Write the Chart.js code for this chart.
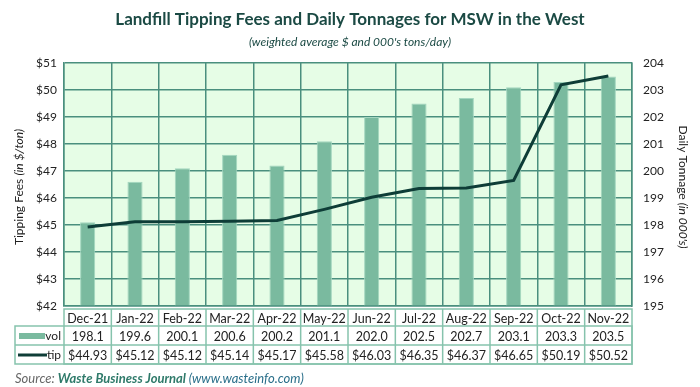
<!DOCTYPE html>
<html>
<head>
<meta charset="utf-8">
<script src="https://cdn.jsdelivr.net/npm/chart.js@4.4.0/dist/chart.umd.min.js"></script>
<style>
  html, body { margin: 0; padding: 0; background: #fff; }
  #wrap { width: 700px; height: 387px; }
</style>
</head>
<body>
<div id="wrap"><canvas id="tipChart" width="700" height="387"></canvas></div>
<script>
const months = ["Dec-21", "Jan-22", "Feb-22", "Mar-22", "Apr-22", "May-22", "Jun-22", "Jul-22", "Aug-22", "Sep-22", "Oct-22", "Nov-22"];
const vol = [198.1, 199.6, 200.1, 200.6, 200.2, 201.1, 202.0, 202.5, 202.7, 203.1, 203.3, 203.5];
const tip = [44.93, 45.12, 45.12, 45.14, 45.17, 45.58, 46.03, 46.35, 46.37, 46.65, 50.19, 50.52];
const feeTicks = [42, 43, 44, 45, 46, 47, 48, 49, 50, 51];
const tonTicks = [195, 196, 197, 198, 199, 200, 201, 202, 203, 204];

const FONT = "Lato, 'Open Sans', sans-serif";
const barColor = "#7aba9f";
const lineColor = "#0e3d37";
const gridColor = "#4a8f7e";
const tableColor = "#86c3ad";
const titleColor = "#1b4a44";

// background + table + titles
const extras = {
    id: "extras",
    beforeDraw(chart) {
        const { ctx, chartArea: a } = chart;
        ctx.save();
        ctx.fillStyle = "#e6fde6";
        ctx.fillRect(a.left, a.top, a.right - a.left, a.bottom - a.top);
        ctx.restore();
    },
    afterDraw(chart) {
        const { ctx, chartArea: a } = chart;
        const x = chart.scales.x;
        const step = (a.right - a.left) / months.length;
        const rows = [309, 326, 345, 364];
        ctx.save();

        // title
        ctx.textAlign = "center";
        ctx.textBaseline = "middle";
        ctx.fillStyle = titleColor;
        ctx.font = "bold 17px " + FONT;
        ctx.fillText("Landfill Tipping Fees and Daily Tonnages for MSW in the West", 350, 20);
        ctx.font = "italic 12px " + FONT;
        ctx.fillText("(weighted average $ and 000's tons/day)", 350, 42);

        // table grid
        ctx.strokeStyle = tableColor;
        ctx.lineWidth = 1.5;
        ctx.strokeRect(a.left, rows[0], a.right - a.left, rows[3] - rows[0]);
        ctx.strokeRect(15, rows[1], a.right - 15, rows[3] - rows[1]);
        ctx.beginPath();
        ctx.moveTo(15, rows[2]); ctx.lineTo(a.right, rows[2]);
        for (let i = 1; i < months.length; i++) {
            const cx = a.left + step * i;
            ctx.moveTo(cx, rows[0]); ctx.lineTo(cx, rows[3]);
        }
        ctx.stroke();

        ctx.fillStyle = "#222";
        ctx.font = "12.5px " + FONT;
        ctx.textAlign = "center";
        months.forEach((m, i) => {
            const cx = x.getPixelForValue(i);
            ctx.fillText(m, cx, (rows[0] + rows[1]) / 2 + 1);
            ctx.fillText(vol[i].toFixed(1), cx, (rows[1] + rows[2]) / 2 + 1);
            ctx.fillText("$" + tip[i].toFixed(2), cx, (rows[2] + rows[3]) / 2 + 1);
        });

        // legend keys
        ctx.fillStyle = barColor;
        ctx.fillRect(19, 333, 26, 6);
        ctx.strokeStyle = lineColor;
        ctx.lineWidth = 3;
        ctx.beginPath();
        ctx.moveTo(18, 355); ctx.lineTo(47, 355);
        ctx.stroke();
        ctx.fillStyle = "#222";
        ctx.font = "12px " + FONT;
        ctx.textAlign = "right";
        ctx.fillText("vol", 61, 336);
        ctx.fillText("tip", 61, 355);

        // axis titles
        function mixed(parts, cx, cy, rot) {
            ctx.save();
            ctx.translate(cx, cy);
            ctx.rotate(rot);
            let w = 0;
            parts.forEach(p => { ctx.font = p[1]; w += ctx.measureText(p[0]).width; });
            let px = -w / 2;
            ctx.textAlign = "left";
            parts.forEach(p => {
                ctx.font = p[1];
                ctx.fillStyle = p[2] || "#222";
                ctx.fillText(p[0], px, 0);
                px += ctx.measureText(p[0]).width;
            });
            ctx.restore();
        }
        mixed([["Tipping Fees ", "12px " + FONT], ["(in $/ton)", "italic 12px " + FONT]], 19, 187, -Math.PI / 2);
        mixed([["Daily Tonnage ", "12px " + FONT], ["(in 000's)", "italic 12px " + FONT]], 683, 187, Math.PI / 2);

        // source
        ctx.textAlign = "left";
        let sx = 15;
        [["Source: ", "italic 13px " + FONT, "#666"],
         ["Waste Business Journal ", "bold italic 13px " + FONT, "#2f7a6a"],
         ["(www.wasteinfo.com)", "italic 13px " + FONT, "#2a6f8a"]].forEach(p => {
            ctx.font = p[1];
            ctx.fillStyle = p[2];
            ctx.fillText(p[0], sx, 379);
            sx += ctx.measureText(p[0]).width;
        });
        ctx.restore();
    }
};

new Chart(document.getElementById("tipChart"), {
    type: "bar",
    data: {
        labels: months,
        datasets: [
            {
                type: "line",
                label: "tip",
                data: tip,
                yAxisID: "y",
                borderColor: lineColor,
                borderWidth: 3,
                pointRadius: 0,
                tension: 0,
                order: 0,
            },
            {
                label: "vol",
                data: vol,
                yAxisID: "y1",
                backgroundColor: barColor,
                borderColor: "#a3d6bf",
                borderWidth: 1,
                categoryPercentage: 1,
                barPercentage: 0.32,
                base: 195,
                order: 1,
            },
        ],
    },
    options: {
        responsive: false,
        animation: false,
        layout: { padding: { top: 63, bottom: 81, left: 0, right: 0 } },
        plugins: { legend: { display: false }, tooltip: { enabled: false } },
        scales: {
            x: {
                ticks: { display: false },
                grid: { color: gridColor, lineWidth: 1.5, drawTicks: false, offset: true },
                border: { color: gridColor, width: 1.5 },
                afterFit: (s) => { s.height = 0; },
            },
            y: {
                position: "left",
                min: feeTicks[0],
                max: feeTicks[feeTicks.length - 1],
                afterBuildTicks: (s) => { s.ticks = feeTicks.map(v => ({ value: v })); },
                ticks: {
                    padding: 7,
                    color: "#222",
                    font: { family: FONT, size: 12 },
                    callback: (v) => "$" + v,
                },
                grid: { color: gridColor, lineWidth: 1.5, drawTicks: false },
                border: { color: gridColor, width: 1.5 },
                afterFit: (s) => { s.width = 64; },
            },
            y1: {
                position: "right",
                min: tonTicks[0],
                max: tonTicks[tonTicks.length - 1],
                afterBuildTicks: (s) => { s.ticks = tonTicks.map(v => ({ value: v })); },
                ticks: {
                    padding: 11,
                    color: "#222",
                    font: { family: FONT, size: 12 },
                },
                grid: { drawOnChartArea: false, drawTicks: false },
                border: { color: gridColor, width: 1.5 },
                afterFit: (s) => { s.width = 68; },
            },
        },
    },
    plugins: [extras],
});
</script>
</body>
</html>
